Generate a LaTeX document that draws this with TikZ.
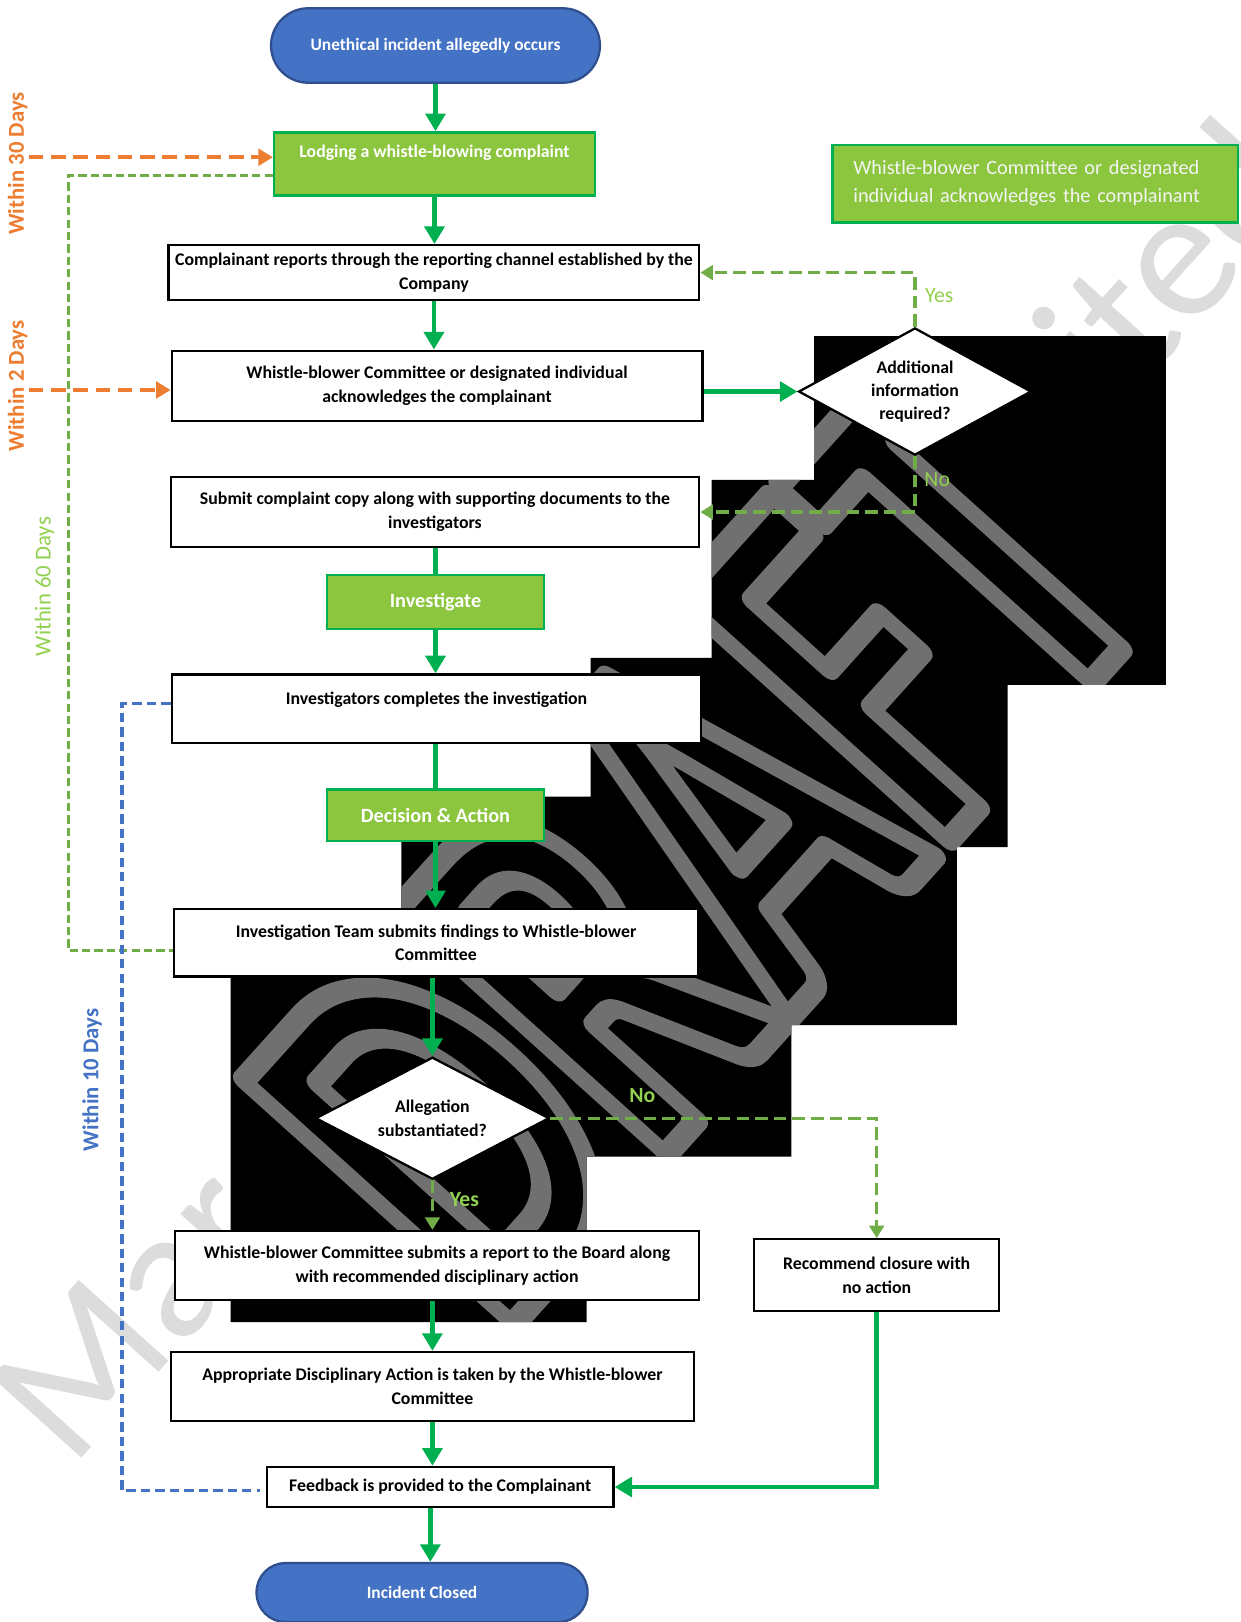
\documentclass[tikz,border=0pt]{standalone}
\usepackage{fontspec}
\setmainfont{Carlito}
\usetikzlibrary{arrows.meta,shapes.geometric,calc}

\definecolor{tblue}{HTML}{4472C4}
\definecolor{tblueb}{HTML}{2F4F8F}
\definecolor{gfill}{HTML}{8CC63F}
\definecolor{gline}{HTML}{00B050}
\definecolor{dgreen}{HTML}{70AD47}
\definecolor{lgreen}{HTML}{92D050}
\definecolor{orng}{HTML}{ED7D31}
\definecolor{wmgray}{HTML}{707070}
\definecolor{wmlight}{HTML}{DCDCDC}
\definecolor{offwhite}{HTML}{F4F4F4}

\begin{document}
\begin{tikzpicture}[x=0.5pt,y=-0.5pt,
  box/.style={draw=black, line width=1.1pt, fill=white, align=center,
    inner xsep=0pt, inner ysep=1pt, font=\bfseries\fontsize{8.6}{11.5}\selectfont},
  btext/.style={inner sep=0pt, font=\bfseries\fontsize{8.6}{11.5}\selectfont},
  gbox/.style={draw=gline, line width=1.2pt, fill=gfill, text=white, align=center,
    inner sep=0pt, font=\bfseries\fontsize{9.8}{12}\selectfont},
  gtitle/.style={inner sep=0pt, text=white, font=\bfseries\fontsize{8.6}{11}\selectfont},
  term/.style={draw=tblueb, line width=1.1pt, fill=tblue, text=white,
    inner sep=0pt, font=\bfseries\fontsize{8.4}{10}\selectfont},
  dia/.style={diamond, draw=black, line width=1.1pt, fill=white, inner sep=0pt,
    align=center, font=\bfseries\fontsize{8.6}{11.25}\selectfont},
  rboxst/.style={draw=gline, line width=1.2pt, fill=gfill, text=offwhite, align=left,
    inner xsep=10pt, inner ysep=0pt, text width=176pt,
    font=\fontsize{9.8}{13.5}\selectfont},
  arr/.style={draw=gline, line width=2.2pt, -{Triangle[width=9.5pt,length=8.5pt]}},
  ln/.style={draw=gline, line width=2.2pt},
  darr/.style={draw=dgreen, line width=1.6pt, dash pattern=on 6pt off 3pt,
    -{Triangle[width=7pt,length=6pt]}},
  oarr/.style={draw=orng, line width=1.8pt, dash pattern=on 7pt off 3.75pt,
    -{Triangle[width=8pt,length=7pt]}},
  gdl/.style={draw=dgreen, line width=1.5pt, dash pattern=on 4pt off 2pt},
  bdl/.style={draw=tblue, line width=1.6pt, dash pattern=on 4.5pt off 2.5pt},
  yn/.style={inner sep=0pt, text=lgreen, font=\fontsize{10.5}{12}\selectfont},
  ynb/.style={inner sep=0pt, text=lgreen, font=\bfseries\fontsize{10.5}{12}\selectfont},
  days/.style={rotate=90, inner sep=0pt, font=\bfseries\fontsize{11}{12}\selectfont},
  draftw/.style={anchor=base west, rotate=48, yscale=1.55, inner sep=0pt,
    font=\bfseries\fontsize{175}{175}\selectfont},
  lwm/.style={anchor=base west, rotate=48, inner sep=0pt, text=wmlight,
    font=\fontsize{91}{91}\selectfont}
]
\useasboundingbox (0,0) rectangle (1199,1568);
\fill[white] (0,0) rectangle (1199,1568);

% light watermark
\node[lwm] (wmA) at (69,1421) {Mar};
\node[lwm] (wmB) at (1080,400) {ited};

% black block with outlined DRAFT watermark
\begin{scope}
\path[clip] (787,325) -- (1127,325) -- (1127,662) -- (974,662) -- (974,819)
  -- (925,819) -- (925,991) -- (765,991) -- (765,1118) -- (567,1118)
  -- (567,1278) -- (223,1278) -- (223,910) -- (388,910) -- (388,770)
  -- (571,770) -- (571,636) -- (688,636) -- (688,464) -- (787,464) -- cycle;
\fill[black] (0,0) rectangle (1199,1568);
\coordinate (dw) at (483,1295);
\node[draftw, text=wmgray] (dwk) at (dw)
  {\special{pdf:literal direct 1 Tr 7.5 w 1 j}DRAFT\special{pdf:literal direct 0 Tr}};
\end{scope}

% day labels
\node[days, text=orng] (w30) at (17,158) {Within 30 Days};
\node[days, text=orng] (w2) at (17,373) {Within 2 Days};
\node[days, text=lgreen, font=\fontsize{11}{12}\selectfont] (w60) at (43,567) {Within 60 Days};
\node[days, text=tblue] (w10) at (89,1044) {Within 10 Days};

% nodes
\node[term, minimum width=159pt, minimum height=36pt, rounded corners=18pt] (t1) at (421,44) {Unethical incident allegedly occurs};
\node[gbox, minimum width=155pt, minimum height=30.5pt] (lodge) at (420,158.5) {};
\node[gtitle] (lodgeT) at (420,148) {Lodging a whistle-blowing complaint};
\node[rboxst, minimum width=196pt, minimum height=37.5pt] (rbox) at (1001,177.5) {Whistle-blower Committee or designated\\individual acknowledges the complainant};
\node[box, minimum width=256.5pt, minimum height=26.5pt] (comp) at (419.5,263.5) {Complainant reports through the reporting channel established by the\\Company};
\node[box, minimum width=256.5pt, minimum height=34pt] (ack) at (422.5,373) {Whistle-blower Committee or designated individual\\acknowledges the complainant};
\node[dia, minimum width=112.5pt, minimum height=61.5pt, aspect=1.83] (d1) at (884.5,378.5) {Additional\\information\\required?};
\node[box, minimum width=255.5pt, minimum height=34pt] (sub) at (420.5,495) {Submit complaint copy along with supporting documents to the\\investigators};
\node[gbox, minimum width=105pt, minimum height=26pt] (inv) at (421,582) {Investigate};
\node[box, minimum width=256pt, minimum height=33pt] (comp2) at (422,685) {};
\node[btext] (comp2T) at (422,676) {Investigators completes the investigation};
\node[gbox, minimum width=105pt, minimum height=25pt] (dec) at (421,788) {Decision \& Action};
\node[box, minimum width=253.5pt, minimum height=32.5pt] (team) at (421.5,911.5) {Investigation Team submits findings to Whistle-blower\\Committee};
\node[dia, minimum width=113pt, minimum height=59pt, aspect=1.92] (d2) at (418,1081) {Allegation\\substantiated?};
\node[box, minimum width=253.5pt, minimum height=33.5pt] (rep) at (422.5,1223.5) {Whistle-blower Committee submits a report to the Board along\\with recommended disciplinary action};
\node[box, minimum width=118.5pt, minimum height=34.5pt] (rec) at (847.5,1232.5) {Recommend closure with\\no action};
\node[box, minimum width=253pt, minimum height=33.5pt] (app) at (418,1340.5) {Appropriate Disciplinary Action is taken by the Whistle-blower\\Committee};
\node[box, minimum width=167.5pt, minimum height=19.5pt] (fb) at (425.5,1437.5) {Feedback is provided to the Complainant};
\node[term, minimum width=160pt, minimum height=28.5pt, rounded corners=14pt] (t2) at (408,1539.5) {Incident Closed};

% left dashed timelines
\coordinate (g60a) at (66,170);
\coordinate (g60b) at (66,919);
\draw[gdl] (g60a -| lodge.west) -- (g60a) -- (g60b) -- (g60b -| team.west);
\coordinate (b10a) at (118,680);
\coordinate (b10b) at (118,1441);
\coordinate (b10c) at (251,1441);
\draw[bdl] (b10a -| comp2.west) -- (b10a) -- (b10b) -- (b10c);
\coordinate (o30) at (28,152);
\draw[oarr] (o30) -- (o30 -| lodge.west);
\coordinate (o2) at (28,377);
\draw[oarr] (o2) -- (o2 -| ack.west);

% connectors
\draw[arr] (t1.south) -- (t1.south |- lodge.north);
\draw[arr] (lodge.south) -- (lodge.south |- comp.north);
\draw[arr] (comp.south) -- (comp.south |- ack.north);
\draw[arr] (ack.east |- d1.west) -- (d1.west);
\draw[darr] (d1.north) |- (comp.east);
\draw[darr] (d1.south) |- (sub.east);
\draw[ln] (sub.south -| inv.north) -- (inv.north);
\draw[arr] (inv.south) -- (inv.south |- comp2.north);
\draw[ln] (comp2.south -| dec.north) -- (dec.north);
\draw[arr] (dec.south) -- (dec.south |- team.north);
\draw[arr] (team.south -| d2.north) -- (d2.north);
\draw[darr] (d2.south) -- (d2.south |- rep.north);
\draw[darr] (d2.east) -| (rec.north);
\draw[arr] (rep.south -| app.north) -- (app.north);
\draw[arr] (app.south) -- (app.south |- fb.north);
\draw[arr] (rec.south) |- (fb.east);
\draw[arr] ([xshift=-4.75pt]fb.south) -- ([xshift=-4.75pt]fb.south |- t2.north);

% yes / no labels
\node[yn] (y1) at (908,286) {Yes};
\node[yn] (n1) at (906,464) {No};
\node[ynb] (n2) at (621,1059) {No};
\node[ynb] (y2) at (449,1160) {Yes};
\end{tikzpicture}
\end{document}
